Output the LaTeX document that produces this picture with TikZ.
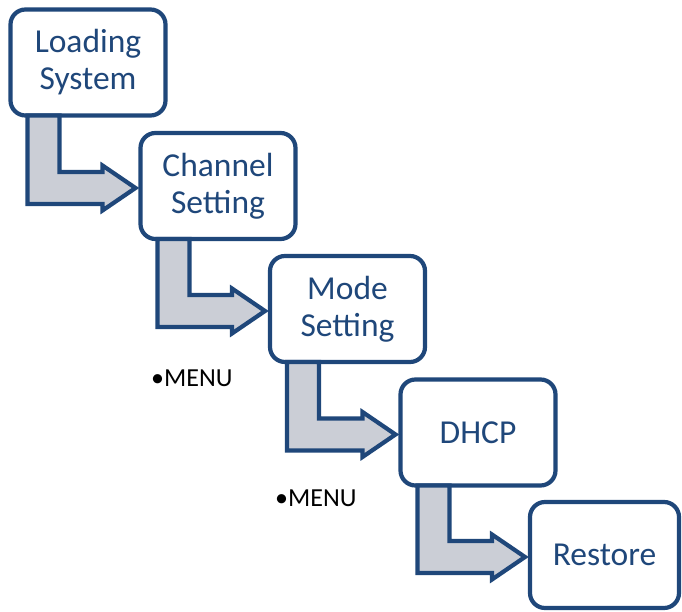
\documentclass[tikz,border=0pt]{standalone}
\usepackage{fontspec}
\setmainfont{Carlito}
\usetikzlibrary{calc}
\definecolor{flowblue}{RGB}{31,71,122}
\definecolor{flowgray}{RGB}{203,206,214}
\newcommand{\bentarrow}[2]{%
\draw[elbowarrow] let \p1=(#1.south west), \p2=(#2.west) in
  (\x1+17bp,\y1) -- (\x1+17bp,\y2-18bp) -- (\x2-38bp,\y2-18bp) -- (\x2-38bp,\y2-24.5bp)
  -- (\x2-5bp,\y2-2bp) -- (\x2-38bp,\y2+20.5bp) -- (\x2-38bp,\y2+14bp) -- (\x1+49bp,\y2+14bp)
  -- (\x1+49bp,\y1) -- cycle;}

\begin{document}
\begin{tikzpicture}[x=1bp,y=1bp,
  stage/.style={draw=flowblue,line width=4.2bp,rounded corners=15bp,fill=white,text=flowblue,
    minimum width=155bp,minimum height=106bp,outer sep=0pt,align=center,
    font=\fontsize{33.5bp}{37bp}\selectfont},
  elbowarrow/.style={draw=flowblue,line width=4.2bp,fill=flowgray,line join=miter},
  note/.style={anchor=base west,inner sep=0pt,font=\fontsize{26bp}{30bp}\selectfont}]
\useasboundingbox (0,0) rectangle (682,612);
\node[stage] (load) at (88,549.5) {Loading\\System};
\node[stage] (chan) at (218,426) {Channel\\Setting};
\node[stage] (mode) at (347.5,303) {Mode\\Setting};
\node[stage] (dhcp) at (478,179.5) {DHCP};
\node[stage,minimum width=149bp] (rest) at (604.5,57) {Restore};
\bentarrow{load}{chan}
\bentarrow{chan}{mode}
\bentarrow{mode}{dhcp}
\bentarrow{dhcp}{rest}
\node[note] (menua) at (151,225) {•MENU};
\node[note] (menub) at (275,105) {•MENU};
\end{tikzpicture}
\end{document}
